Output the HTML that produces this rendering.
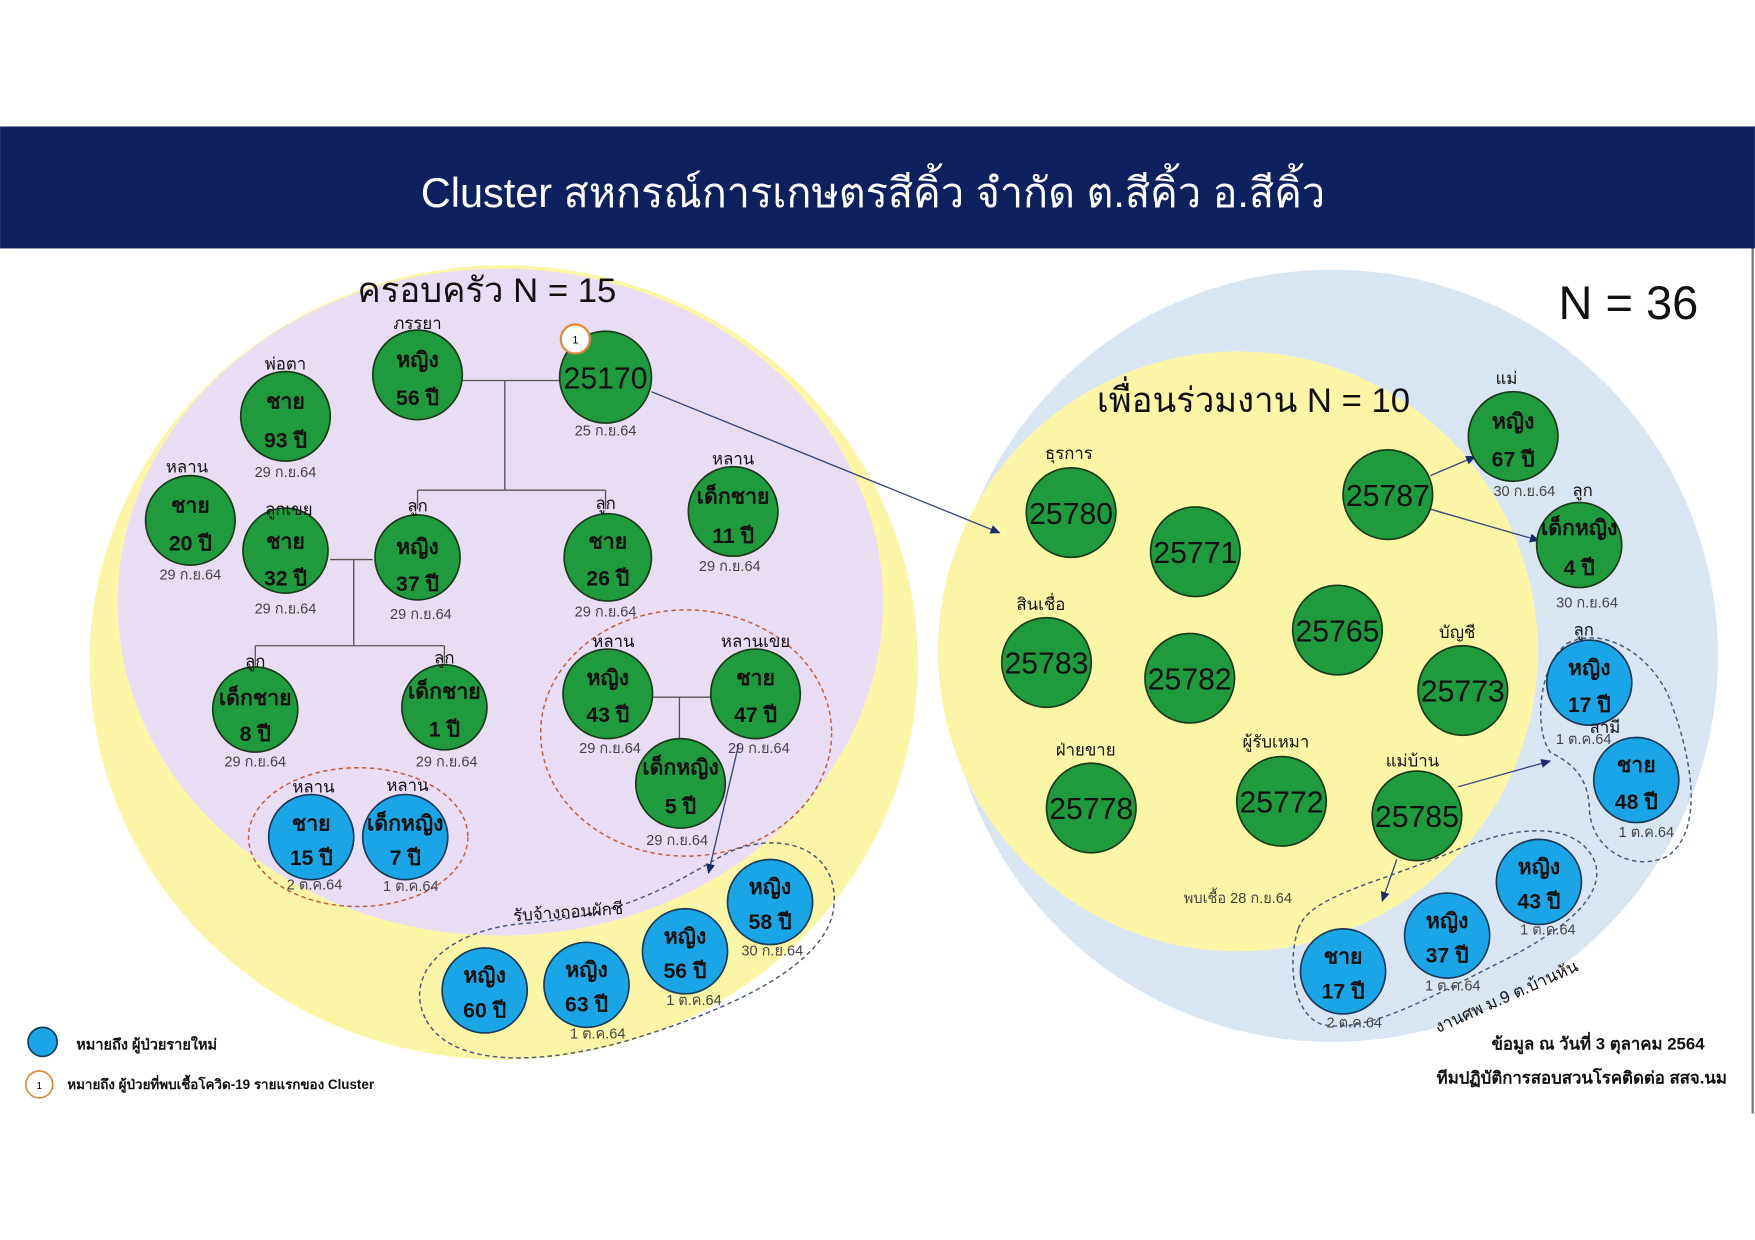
<!DOCTYPE html>
<html><head><meta charset="utf-8"><style>
html,body{margin:0;padding:0;background:#fff}
svg{display:block}
text{font-family:"Liberation Sans","DejaVu Sans",sans-serif}
.g{fill:#1f9a3c;stroke:#1a3a1a;stroke-width:1.5}
.b{fill:#1aa6e6;stroke:#1a3a5a;stroke-width:1.5}
.t{font-size:19px;font-weight:bold;fill:#111;text-anchor:middle}
.n{font-size:27px;fill:#111;text-anchor:middle}
.d{font-size:13px;fill:#444;text-anchor:middle}
.l{font-size:15px;fill:#111;text-anchor:middle}
.ln{stroke:#555;stroke-width:1.2;fill:none}
.ar{stroke:#3a4a7a;stroke-width:1.2;fill:none;marker-end:url(#m)}
.dsh{stroke:#4a5a7a;stroke-width:1.3;fill:none;stroke-dasharray:4 3}
.do{stroke:#c0603a;stroke-width:1.3;fill:none;stroke-dasharray:4 3}
</style></head><body>
<svg width="1755" height="1240" viewBox="0 0 1568 1108" xmlns="http://www.w3.org/2000/svg">
<defs><marker id="m" markerWidth="10" markerHeight="10" refX="8" refY="4" orient="auto" markerUnits="userSpaceOnUse"><path d="M0,0 L9,4 L0,8 z" fill="#1a2a6a"/></marker></defs>
<rect width="1568" height="1108" fill="#fff"/>
<rect x="0" y="113" width="1568" height="109" fill="#0c215e"/>
<text x="780" y="185" font-size="37" fill="#fff" text-anchor="middle">Cluster สหกรณ์การเกษตรสีคิ้ว จำกัด ต.สีคิ้ว อ.สีคิ้ว</text>
<line x1="1566" y1="222" x2="1566" y2="995" stroke="#777" stroke-width="2"/>

<ellipse cx="450" cy="592" rx="370" ry="355" fill="#fbf6a6"/>
<ellipse cx="447" cy="538" rx="342" ry="298" fill="#e9ddf4"/>
<circle cx="1190" cy="586" r="345" fill="#dae5f2"/>
<circle cx="1106" cy="582" r="268" fill="#fbf6a6"/>

<text x="435" y="270" font-size="31" fill="#111" text-anchor="middle">ครอบครัว N = 15</text>
<text x="1455" y="285" font-size="42" fill="#111" text-anchor="middle">N = 36</text>
<text x="1120" y="368" font-size="31" fill="#111" text-anchor="middle">เพื่อนร่วมงาน N = 10</text>

<path class="ln" d="M413,340 H500 M451,340 V438 M373,438 H541 M373,438 V455 M541,438 V455"/>
<path class="ln" d="M295,500 H333 M316,500 V577 M228,577 H397 M228,577 V595 M397,577 V593"/>
<path class="ln" d="M583,623 H635 M607,623 V662"/>
<ellipse class="do" cx="320" cy="748" rx="98" ry="62"/>
<ellipse class="do" cx="613" cy="655" rx="130" ry="110"/>
<path class="dsh" d="M380,910 C360,870 400,830 470,825 C560,818 600,790 650,762 C700,740 750,760 745,810 C740,860 660,900 560,930 C470,955 400,950 380,910 Z"/>
<path class="ar" d="M660,665 L633,780"/>
<path class="ar" d="M582,350 L893,476"/>

<circle class="g" cx="373" cy="335" r="40"/><text class="t" x="373" y="328">หญิง</text><text class="t" x="373" y="362">56 ปี</text>
<text class="l" x="373" y="294">ภรรยา</text>
<circle class="g" cx="541" cy="337" r="41"/><text class="n" x="541" y="347">25170</text><text class="d" x="541" y="389">25 ก.ย.64</text>
<circle cx="514" cy="303" r="13" fill="#fff" stroke="#e08a3a" stroke-width="2"/><text x="514" y="307" font-size="10" text-anchor="middle">1</text>
<circle class="g" cx="255" cy="372" r="40"/><text class="t" x="255" y="365">ชาย</text><text class="t" x="255" y="400">93 ปี</text><text class="d" x="255" y="426">29 ก.ย.64</text>
<text class="l" x="255" y="330">พ่อตา</text>
<circle class="g" cx="170" cy="465" r="40"/><text class="t" x="170" y="458">ชาย</text><text class="t" x="170" y="492">20 ปี</text><text class="d" x="170" y="518">29 ก.ย.64</text>
<text class="l" x="167" y="422">หลาน</text>
<circle class="g" cx="255" cy="492" r="38"/><text class="t" x="255" y="490">ชาย</text><text class="t" x="255" y="523">32 ปี</text><text class="d" x="255" y="548">29 ก.ย.64</text>
<text class="l" x="258" y="460">ลูกเขย</text>
<circle class="g" cx="373" cy="498" r="38"/><text class="t" x="373" y="495">หญิง</text><text class="t" x="373" y="528">37 ปี</text><text class="d" x="376" y="553">29 ก.ย.64</text>
<text class="l" x="373" y="457">ลูก</text>
<circle class="g" cx="543" cy="498" r="39"/><text class="t" x="543" y="490">ชาย</text><text class="t" x="543" y="523">26 ปี</text><text class="d" x="541" y="551">29 ก.ย.64</text>
<text class="l" x="541" y="455">ลูก</text>
<circle class="g" cx="655" cy="457" r="40"/><text class="t" x="655" y="450">เด็กชาย</text><text class="t" x="655" y="485">11 ปี</text><text class="d" x="652" y="510">29 ก.ย.64</text>
<text class="l" x="655" y="415">หลาน</text>
<circle class="g" cx="228" cy="634" r="38"/><text class="t" x="228" y="630">เด็กชาย</text><text class="t" x="228" y="662">8 ปี</text><text class="d" x="228" y="685">29 ก.ย.64</text>
<text class="l" x="228" y="596">ลูก</text>
<circle class="g" cx="397" cy="632" r="38"/><text class="t" x="397" y="624">เด็กชาย</text><text class="t" x="397" y="658">1 ปี</text><text class="d" x="399" y="685">29 ก.ย.64</text>
<text class="l" x="397" y="593">ลูก</text>
<circle class="g" cx="543" cy="620" r="40"/><text class="t" x="543" y="612">หญิง</text><text class="t" x="543" y="645">43 ปี</text><text class="d" x="545" y="673">29 ก.ย.64</text>
<text class="l" x="548" y="578">หลาน</text>
<circle class="g" cx="675" cy="620" r="40"/><text class="t" x="675" y="612">ชาย</text><text class="t" x="675" y="645">47 ปี</text><text class="d" x="678" y="673">29 ก.ย.64</text>
<text class="l" x="675" y="578">หลานเขย</text>
<circle class="g" cx="608" cy="700" r="40"/><text class="t" x="608" y="692">เด็กหญิง</text><text class="t" x="608" y="727">5 ปี</text><text class="d" x="605" y="755">29 ก.ย.64</text>
<circle class="b" cx="278" cy="748" r="38"/><text class="t" x="278" y="742">ชาย</text><text class="t" x="278" y="773">15 ปี</text><text class="d" x="281" y="795">2 ต.ค.64</text>
<circle class="b" cx="362" cy="748" r="38"/><text class="t" x="362" y="742">เด็กหญิง</text><text class="t" x="362" y="773">7 ปี</text><text class="d" x="367" y="796">1 ต.ค.64</text>
<text class="l" x="280" y="708">หลาน</text><text class="l" x="364" y="707">หลาน</text>
<text class="l" x="508" y="820" transform="rotate(-4 508 820)">รับจ้างถอนผักชี</text>
<circle class="b" cx="433" cy="885" r="38"/><text class="t" x="433" y="878">หญิง</text><text class="t" x="433" y="909">60 ปี</text>
<circle class="b" cx="524" cy="880" r="38"/><text class="t" x="524" y="873">หญิง</text><text class="t" x="524" y="904">63 ปี</text><text class="d" x="534" y="928">1 ต.ค.64</text>
<circle class="b" cx="612" cy="850" r="38"/><text class="t" x="612" y="843">หญิง</text><text class="t" x="612" y="874">56 ปี</text><text class="d" x="620" y="898">1 ต.ค.64</text>
<circle class="b" cx="688" cy="806" r="38"/><text class="t" x="688" y="799">หญิง</text><text class="t" x="688" y="830">58 ปี</text><text class="d" x="690" y="854">30 ก.ย.64</text>

<path class="dsh" d="M1400,575 C1430,560 1470,580 1490,620 C1510,670 1525,740 1490,765 C1460,780 1420,760 1420,720 C1418,690 1400,680 1385,672 C1370,650 1375,595 1400,575 Z"/>
<path class="dsh" d="M1160,830 C1170,800 1230,790 1300,760 C1360,735 1410,735 1425,770 C1435,800 1400,830 1340,860 C1280,890 1220,925 1180,915 C1155,905 1150,860 1160,830 Z"/>
<path class="ar" d="M1278,425 L1318,408"/>
<path class="ar" d="M1278,455 L1375,483"/>
<path class="ar" d="M1303,703 L1385,680"/>
<path class="ar" d="M1248,768 L1235,805"/>

<text class="l" x="955" y="410">ธุรการ</text>
<circle class="g" cx="957" cy="458" r="40"/><text class="n" x="957" y="468">25780</text>
<circle class="g" cx="1068" cy="493" r="40"/><text class="n" x="1068" y="503">25771</text>
<circle class="g" cx="1240" cy="442" r="40"/><text class="n" x="1240" y="452">25787</text>
<text class="l" x="1346" y="343">แม่</text>
<circle class="g" cx="1352" cy="390" r="40"/><text class="t" x="1352" y="383">หญิง</text><text class="t" x="1352" y="417">67 ปี</text><text class="d" x="1362" y="443">30 ก.ย.64</text>
<circle class="g" cx="1411" cy="487" r="38"/><text class="t" x="1411" y="478">เด็กหญิง</text><text class="t" x="1411" y="514">4 ปี</text><text class="d" x="1418" y="543">30 ก.ย.64</text>
<text class="l" x="1414" y="443">ลูก</text>
<text class="l" x="930" y="545">สินเชื่อ</text>
<circle class="g" cx="935" cy="592" r="40"/><text class="n" x="935" y="602">25783</text>
<circle class="g" cx="1063" cy="606" r="40"/><text class="n" x="1063" y="616">25782</text>
<circle class="g" cx="1195" cy="563" r="40"/><text class="n" x="1195" y="573">25765</text>
<text class="l" x="1302" y="570">บัญชี</text>
<circle class="g" cx="1307" cy="617" r="40"/><text class="n" x="1307" y="627">25773</text>
<text class="l" x="970" y="675">ฝ่ายขาย</text>
<circle class="g" cx="975" cy="722" r="40"/><text class="n" x="975" y="732">25778</text>
<text class="l" x="1140" y="668">ผู้รับเหมา</text>
<circle class="g" cx="1145" cy="716" r="40"/><text class="n" x="1145" y="726">25772</text>
<text class="l" x="1262" y="685">แม่บ้าน</text>
<circle class="g" cx="1266" cy="729" r="40"/><text class="n" x="1266" y="739">25785</text>
<text class="d" x="1106" y="807" font-size="14">พบเชื้อ 28 ก.ย.64</text>

<circle class="b" cx="1420" cy="610" r="38"/><text class="t" x="1420" y="603">หญิง</text><text class="t" x="1420" y="636">17 ปี</text><text class="d" x="1415" y="665">1 ต.ค.64</text>
<text class="l" x="1415" y="568">ลูก</text>
<circle class="b" cx="1462" cy="697" r="38"/><text class="t" x="1462" y="690">ชาย</text><text class="t" x="1462" y="723">48 ปี</text><text class="d" x="1471" y="748">1 ต.ค.64</text>
<text class="l" x="1434" y="655">สามี</text>
<circle class="b" cx="1375" cy="788" r="38"/><text class="t" x="1375" y="781">หญิง</text><text class="t" x="1375" y="812">43 ปี</text><text class="d" x="1383" y="835">1 ต.ค.64</text>
<circle class="b" cx="1293" cy="836" r="38"/><text class="t" x="1293" y="829">หญิง</text><text class="t" x="1293" y="860">37 ปี</text><text class="d" x="1298" y="885">1 ต.ค.64</text>
<circle class="b" cx="1200" cy="868" r="38"/><text class="t" x="1200" y="861">ชาย</text><text class="t" x="1200" y="892">17 ปี</text><text class="d" x="1210" y="918">2 ต.ค.64</text>
<text class="l" x="1348" y="895" font-size="13" transform="rotate(-24 1348 895)">งานศพ ม.9 ต.บ้านหัน</text>

<circle class="b" cx="38" cy="931" r="13"/>
<text x="68" y="938" font-size="13" font-weight="bold" fill="#111">หมายถึง ผู้ป่วยรายใหม่</text>
<circle cx="35" cy="969" r="12" fill="#fff" stroke="#e08a3a" stroke-width="1.5"/><text x="35" y="973" font-size="9" text-anchor="middle">1</text>
<text x="60" y="973" font-size="12" font-weight="bold" fill="#111">หมายถึง ผู้ป่วยที่พบเชื้อโควิด-19 รายแรกของ Cluster</text>
<text x="1523" y="938" font-size="15" font-weight="bold" fill="#111" text-anchor="end">ข้อมูล ณ วันที่ 3 ตุลาคม 2564</text>
<text x="1543" y="968" font-size="15" font-weight="bold" fill="#111" text-anchor="end">ทีมปฏิบัติการสอบสวนโรคติดต่อ สสจ.นม</text>
</svg>
</body></html>
